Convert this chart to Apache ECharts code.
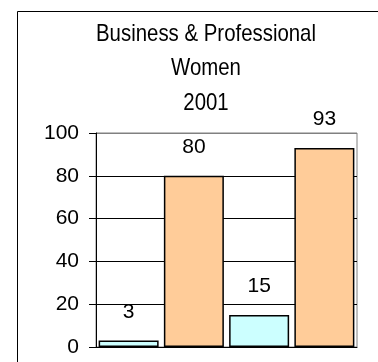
<!DOCTYPE html>
<html>
<head>
<meta charset="utf-8">
<script src="https://cdn.jsdelivr.net/npm/echarts@6/dist/echarts.min.js"></script>
<style>
  html, body { margin: 0; padding: 0; background: #fff; }
  #chart { width: 378px; height: 362px; }
</style>
</head>
<body>
<div id="chart"></div>
<script>
// 数据
const categories = ['A', 'B', 'C', 'D']
const values = [3, 80, 15, 93]
const barColors = ['#CCFFFF', '#FFCC99', '#CCFFFF', '#FFCC99']
const yTicks = [0, 20, 40, 60, 80, 100]
const titleLines = ['Business & Professional', 'Women', '2001']

const font = 'Liberation Sans, Arial, sans-serif'

const chart = echarts.init(document.getElementById('chart'), null, { renderer: 'canvas' })

// 标题：窄体效果用 scaleX 压缩
const titleY = [34, 68, 103]
const titleGraphics = titleLines.map((t, i) => ({
  type: 'text',
  x: 206,
  y: titleY[i],
  scaleX: 0.85,
  style: {
    text: t,
    font: 'normal 24px ' + font,
    fill: '#000',
    textAlign: 'center',
    textVerticalAlign: 'middle'
  },
  z: 100
}))

const option = {
  backgroundColor: '#fff',
  animation: false,
  graphic: [
    {
      type: 'rect',
      shape: { x: 17.5, y: 11.5, width: 420, height: 420 },
      style: { fill: 'none', stroke: '#000', lineWidth: 1 },
      z: 100
    },
    ...titleGraphics
  ],
  grid: {
    left: 96,
    right: 21,
    top: 133,
    bottom: 15,
    show: true,
    borderColor: '#808080',
    borderWidth: 1
  },
  xAxis: {
    type: 'category',
    data: categories,
    axisLine: { lineStyle: { color: '#000', width: 1 } },
    axisTick: { show: false },
    axisLabel: { show: false }
  },
  yAxis: {
    type: 'value',
    min: yTicks[0],
    max: yTicks[yTicks.length - 1],
    interval: 20,
    axisLine: { show: true, lineStyle: { color: '#000', width: 1 } },
    axisTick: { show: true, length: 7, lineStyle: { color: '#000' } },
    axisLabel: {
      margin: 17,
      fontFamily: font,
      fontSize: 21,
      color: '#000'
    },
    splitLine: {
      show: true,
      lineStyle: {
        color: ['#000', '#000', '#000', '#000', '#000', '#808080'],
        width: 1
      }
    }
  },
  series: [
    {
      type: 'bar',
      barWidth: 60,
      data: values.map((v, i) => ({
        value: v,
        itemStyle: { color: barColors[i] }
      })),
      itemStyle: {
        borderColor: '#000',
        borderWidth: 1.5
      },
      label: {
        show: true,
        position: 'top',
        distance: 18,
        fontFamily: font,
        fontSize: 21,
        color: '#000'
      }
    }
  ]
}

chart.setOption(option)
</script>
</body>
</html>
